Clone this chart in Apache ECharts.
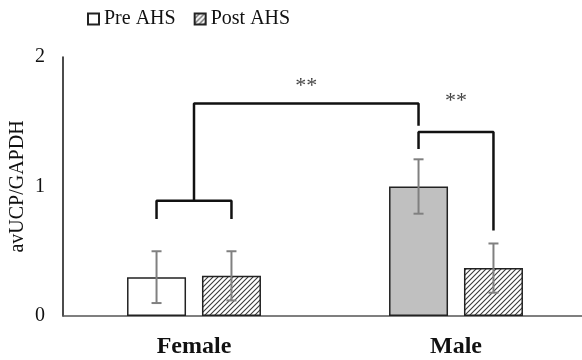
<!DOCTYPE html>
<html>
<head>
<meta charset="utf-8">
<script src="https://cdn.jsdelivr.net/npm/echarts@6/dist/echarts.min.js"></script>
<style>html,body{margin:0;padding:0;background:#fff;}#c{width:582px;height:360px;}</style>
</head>
<body>
<div id="c"></div>
<script>
// ---- data ----
var categories = ['Female', 'Male'];
var seriesNames = ['Pre AHS', 'Post AHS'];
var preMean = [0.30, 1.00];
var preErr = [0.20, 0.21];
var postMean = [0.31, 0.37];
var postErr = [0.19, 0.19];
var yTicks = [0, 1, 2];
var yAxisName = 'avUCP/GAPDH';
// significance brackets (y in data units)
var femaleBracket = {leg: 0.75, bar: 0.89, stemTop: 1.64, maleDrop: 1.47};
var maleBracket = {top: 1.42, preLeg: 1.29, postLeg: 0.66};
var starsLabel = '**';
var starsY = [1.775, 1.66];

// ---- style ----
var FONT = 'Liberation Serif';
var BAR_W = 59;
var BAR_GAP = 0.27;
var OFF = (BAR_W * (1 + BAR_GAP)) / 2; // px offset of bar centre from category centre

function hatch() {
  var s = 5;
  var cv = document.createElement('canvas');
  cv.width = s; cv.height = s;
  var g = cv.getContext('2d');
  g.fillStyle = '#ffffff'; g.fillRect(0, 0, s, s);
  g.strokeStyle = '#3a3a3a'; g.lineWidth = 1.1;
  g.beginPath();
  g.moveTo(-1, s + 1); g.lineTo(s + 1, -1);
  g.moveTo(-1, 1); g.lineTo(1, -1);
  g.moveTo(s - 1, s + 1); g.lineTo(s + 1, s - 1);
  g.stroke();
  return {image: cv, repeat: 'repeat'};
}
var hatchPat = hatch();

var chart = echarts.init(document.getElementById('c'), null, {renderer: 'canvas'});

function errRender(sign) {
  return function (params, api) {
    var c = api.value(0), lo = api.value(1), hi = api.value(2);
    var pLo = api.coord([c, lo]);
    var pHi = api.coord([c, hi]);
    var x = pLo[0] + sign * OFF;
    var cap = 5;
    var st = {stroke: '#808080', lineWidth: 2};
    return {type: 'group', children: [
      {type: 'line', shape: {x1: x, y1: pLo[1], x2: x, y2: pHi[1]}, style: st},
      {type: 'line', shape: {x1: x - cap, y1: pLo[1], x2: x + cap, y2: pLo[1]}, style: st},
      {type: 'line', shape: {x1: x - cap, y1: pHi[1], x2: x + cap, y2: pHi[1]}, style: st}
    ]};
  };
}

var preErrData = preMean.map(function (m, i) { return [i, m - preErr[i], m + preErr[i]]; });
var postErrData = postMean.map(function (m, i) { return [i, m - postErr[i], m + postErr[i]]; });

// value-axis positions of category centres and bars (value axis spans 0..categories.length)
function catC(i) { return i + 0.5; }
var catPx = 262; // approx category band width in px, used to map bar offset into axis units
var offU = OFF / catPx;
var fPre = catC(0) - offU, fPost = catC(0) + offU, fC = catC(0);
var mPre = catC(1) - offU, mPost = catC(1) + offU, mC = catC(1);

var bracketA = [[fPre, femaleBracket.leg], [fPre, femaleBracket.bar], [fPost, femaleBracket.bar], [fPost, femaleBracket.leg]];
var bracketB = [[fC, femaleBracket.bar], [fC, femaleBracket.stemTop], [mPre, femaleBracket.stemTop], [mPre, femaleBracket.maleDrop]];
var bracketC = [[mPre, maleBracket.preLeg], [mPre, maleBracket.top], [mPost, maleBracket.top], [mPost, maleBracket.postLeg]];
var starPts = [[(fC + mPre) / 2, starsY[0]], [(mPre + mPost) / 2, starsY[1]]];

var lineStyle = {color: '#111', width: 2.5};
function bracketSeries(d) {
  return {type: 'line', xAxisIndex: 1, data: d, symbol: 'none', lineStyle: lineStyle, silent: true, animation: false, z: 5};
}

chart.setOption({
  animation: false,
  legend: {
    data: seriesNames,
    left: 82, top: 4,
    icon: 'rect', itemWidth: 11, itemHeight: 11, itemGap: 18,
    textStyle: {fontFamily: FONT, fontSize: 20, color: '#111'},
    selectedMode: false
  },
  grid: {left: 63, right: -5, top: 57, bottom: 44, containLabel: false, outerBoundsMode: 'none'},
  xAxis: [{
    type: 'category', data: categories,
    axisLine: {lineStyle: {color: '#555', width: 1.5}},
    axisTick: {show: false},
    axisLabel: {fontFamily: FONT, fontWeight: 'bold', fontSize: 24, color: '#111', margin: 19}
  }, {
    type: 'value', min: 0, max: categories.length, show: false
  }],
  yAxis: {
    type: 'value', min: yTicks[0], max: yTicks[yTicks.length - 1], interval: 1,
    name: yAxisName, nameLocation: 'middle', nameGap: 35, nameRotate: 90, nameMoveOverlap: false,
    nameTextStyle: {fontFamily: FONT, fontSize: 20, color: '#111'},
    axisLine: {show: true, lineStyle: {color: '#111', width: 1.5}},
    axisTick: {show: false},
    splitLine: {show: false},
    axisLabel: {fontFamily: FONT, fontSize: 20, color: '#111', margin: 18}
  },
  series: [
    {
      name: seriesNames[0], type: 'bar', barWidth: BAR_W, barGap: (BAR_GAP * 100) + '%',
      itemStyle: {color: '#ffffff', borderColor: '#222', borderWidth: 1.5},
      data: [
        {value: preMean[0]},
        {value: preMean[1], itemStyle: {color: '#c0c0c0'}}
      ]
    },
    {
      name: seriesNames[1], type: 'bar', barWidth: BAR_W,
      itemStyle: {color: hatchPat, borderColor: '#222', borderWidth: 1.5},
      data: postMean
    },
    {type: 'custom', renderItem: errRender(-1), data: preErrData, z: 4, silent: true},
    {type: 'custom', renderItem: errRender(1), data: postErrData, z: 4, silent: true},
    bracketSeries(bracketA),
    bracketSeries(bracketB),
    bracketSeries(bracketC),
    {
      type: 'scatter', xAxisIndex: 1, data: starPts, symbolSize: 0, silent: true,
      label: {show: true, position: 'inside', formatter: starsLabel, fontFamily: FONT, fontSize: 22, color: '#111'}
    }
  ]
});
</script>
</body>
</html>
